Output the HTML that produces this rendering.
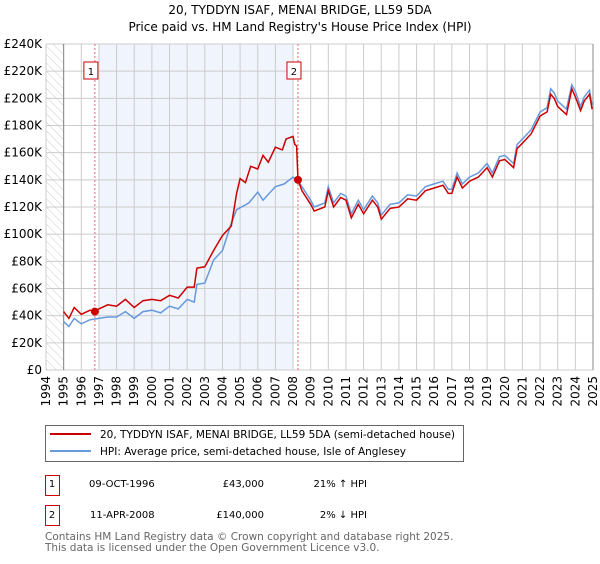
<!DOCTYPE html>
<html><head><meta charset="utf-8"><style>
body{margin:0;background:#fff;font-family:"DejaVu Sans","Liberation Sans",sans-serif;}
svg text{font-family:"DejaVu Sans","Liberation Sans",sans-serif;fill:#000}
</style></head><body>
<svg width="600" height="560" viewBox="0 0 600 560">
<defs><pattern id="hatch" width="6" height="6" patternUnits="userSpaceOnUse" patternTransform="rotate(-45)"><line x1="0" y1="0" x2="0" y2="6" stroke="#ccc" stroke-width="1"/></pattern></defs>
<text x="300" y="14" text-anchor="middle" font-size="12">20, TYDDYN ISAF, MENAI BRIDGE, LL59 5DA</text>
<text x="300" y="31" text-anchor="middle" font-size="12">Price paid vs. HM Land Registry's House Price Index (HPI)</text>
<g id="plot"></g>
<rect x="45.5" y="425.5" width="418" height="36" fill="#fff" stroke="#666"/>
<line x1="50" y1="434" x2="91" y2="434" stroke="#cc0000" stroke-width="2"/>
<text x="100" y="438" font-size="10.5">20, TYDDYN ISAF, MENAI BRIDGE, LL59 5DA (semi-detached house)</text>
<line x1="50" y1="451" x2="91" y2="451" stroke="#6699dd" stroke-width="2"/>
<text x="100" y="455" font-size="10.5">HPI: Average price, semi-detached house, Isle of Anglesey</text>
<rect x="45.5" y="475.5" width="14" height="20" fill="#fff" stroke="#cc0000"/>
<text x="52" y="487" text-anchor="middle" font-size="10">1</text>
<text x="89" y="487" font-size="10">09-OCT-1996</text>
<text x="264" y="487" text-anchor="end" font-size="10">£43,000</text>
<text x="367" y="487" text-anchor="end" font-size="10">21% ↑ HPI</text>
<rect x="45.5" y="505.5" width="14" height="20" fill="#fff" stroke="#cc0000"/>
<text x="52" y="518" text-anchor="middle" font-size="10">2</text>
<text x="90" y="518" font-size="10">11-APR-2008</text>
<text x="264" y="518" text-anchor="end" font-size="10">£140,000</text>
<text x="367" y="518" text-anchor="end" font-size="10">2% ↓ HPI</text>
<text x="45" y="540" font-size="10.5" style="fill:#666">Contains HM Land Registry data © Crown copyright and database right 2025.</text>
<text x="45" y="551" font-size="10.5" style="fill:#666">This data is licensed under the Open Government Licence v3.0.</text>
</svg>
<script>
const yTicks=[0,20,40,60,80,100,120,140,160,180,200,220,240];
const xYears=[1994,1995,1996,1997,1998,1999,2000,2001,2002,2003,2004,2005,2006,2007,2008,2009,2010,2011,2012,2013,2014,2015,2016,2017,2018,2019,2020,2021,2022,2023,2024,2025];
const hpiT=[1995,1995.3,1995.6,1996,1996.5,1997,1997.5,1998,1998.5,1999,1999.5,2000,2000.5,2001,2001.5,2002,2002.4,2002.55,2003,2003.5,2004,2004.5,2004.8,2005.5,2006,2006.3,2007,2007.5,2008,2008.3,2008.5,2009,2009.2,2009.8,2010,2010.3,2010.7,2011,2011.3,2011.7,2012,2012.5,2012.8,2013,2013.5,2014,2014.5,2015,2015.5,2016,2016.5,2016.8,2017,2017.3,2017.6,2018,2018.5,2019,2019.3,2019.7,2020,2020.5,2020.7,2021,2021.5,2022,2022.4,2022.6,2022.8,2023,2023.5,2023.8,2024,2024.3,2024.5,2024.8,2024.95];
const hpiV=[35.6,32,38,34,37,38,39,39,43,38,43,44,42,47,45,52,50,63,64,81,88,108,118,123,131,125,135,137,142,139,135,125,120,123,135,123,130,128,115,125,118,128,123,114,122,123,129,128,135,137,139,133,133,145,137,142,145,152,145,157,158,152,166,170,177,190,193,207,204,198,192,210,205,194,201,206,195];
const redT=[1995,1995.3,1995.6,1996,1996.5,1996.77,1997,1997.5,1998,1998.5,1999,1999.5,2000,2000.5,2001,2001.5,2002,2002.4,2002.55,2003,2003.5,2004,2004.5,2004.8,2005,2005.3,2005.6,2006,2006.3,2006.6,2007,2007.4,2007.6,2008,2008.1,2008.2,2008.28,2008.5,2009,2009.2,2009.8,2010,2010.3,2010.7,2011,2011.3,2011.7,2012,2012.5,2012.8,2013,2013.5,2014,2014.5,2015,2015.5,2016,2016.5,2016.8,2017,2017.3,2017.6,2018,2018.5,2019,2019.3,2019.7,2020,2020.5,2020.7,2021,2021.5,2022,2022.4,2022.6,2022.8,2023,2023.5,2023.8,2024,2024.3,2024.5,2024.8,2024.95];
const redV=[43,38,46,41,44,43,45,48,47,52,46,51,52,51,55,53,61,61,75,76,88,99,106,130,141,138,150,148,158,153,164,162,170,172,166,165,140,132,122,117,120,132,120,127,125,112,122,115,125,120,111,119,120,126,125,132,134,136,130,130,142,134,139,142,149,142,154,155,149,163,167,174,187,190,203,200,194,188,207,201,191,198,203,192];
const sales=[{t:1996.77,v:43,label:'1'},{t:2008.28,v:140,label:'2'}];
const NS='http://www.w3.org/2000/svg';
const L=46,R=593,T=44,B=370;
const x=t=>L+(t-1994)/31*(R-L);
const y=v=>B-v/240*(B-T);
const g=document.getElementById('plot');
function mk(tag,attrs,parent){const e=document.createElementNS(NS,tag);for(const k in attrs)e.setAttribute(k,attrs[k]);(parent||g).appendChild(e);return e;}
let e;
e=mk('rect',{x:L,y:T,width:x(1995)-L,height:B-T,fill:'url(#hatch)'});


e=mk('rect',{x:x(1997),y:T,width:x(2008)-x(1997),height:B-T,fill:'#f0f4fc'});


yTicks.forEach(v=>{
 e=mk('line',{x1:L,x2:R,y1:y(v),y2:y(v),stroke:'#ccc','stroke-width':1});
 
 
 e=mk('text',{x:L-4,y:y(v)+4,'text-anchor':'end','font-size':12});
 e.textContent=v===0?'£0':'£'+v+'K';
 
 
});
xYears.forEach(t=>{
 e=mk('line',{x1:x(t),x2:x(t),y1:T,y2:B,stroke:'#ccc','stroke-width':1});
 
 
 e=mk('text',{x:0,y:0,'font-size':12,'text-anchor':'end',transform:`translate(${x(t)+4},${B+6}) rotate(-90)`});
 e.textContent=t;
 
 
});
e=mk('line',{x1:x(1995),x2:x(1995),y1:T,y2:B,stroke:'#888'});
e=mk('line',{x1:R,x2:R,y1:T,y2:B,stroke:'#888'});
sales.forEach(s=>{
 e=mk('line',{x1:x(s.t),x2:x(s.t),y1:T,y2:B,stroke:'#ee6677','stroke-dasharray':'2,2'});
 
 
});
function path(ts,vs){return ts.map((t,i)=>(i?'L':'M')+x(t).toFixed(1)+','+y(vs[i]).toFixed(1)).join('');}
e=mk('path',{d:path(hpiT,hpiV),fill:'none',stroke:'#6699dd','stroke-width':1.5});


e=mk('path',{d:path(redT,redV),fill:'none',stroke:'#cc0000','stroke-width':1.5});


sales.forEach(s=>{
 e=mk('circle',{cx:x(s.t),cy:y(s.v),r:4,fill:'#cc0000'});
 
 
 e=mk('rect',{x:x(s.t)-11,y:62,width:14,height:17,fill:'#fff',stroke:'#cc0000'});
 
 
 e=mk('text',{x:x(s.t)-4,y:75,'text-anchor':'middle','font-size':10});
 e.textContent=s.label;
});
</script>
</body></html>
